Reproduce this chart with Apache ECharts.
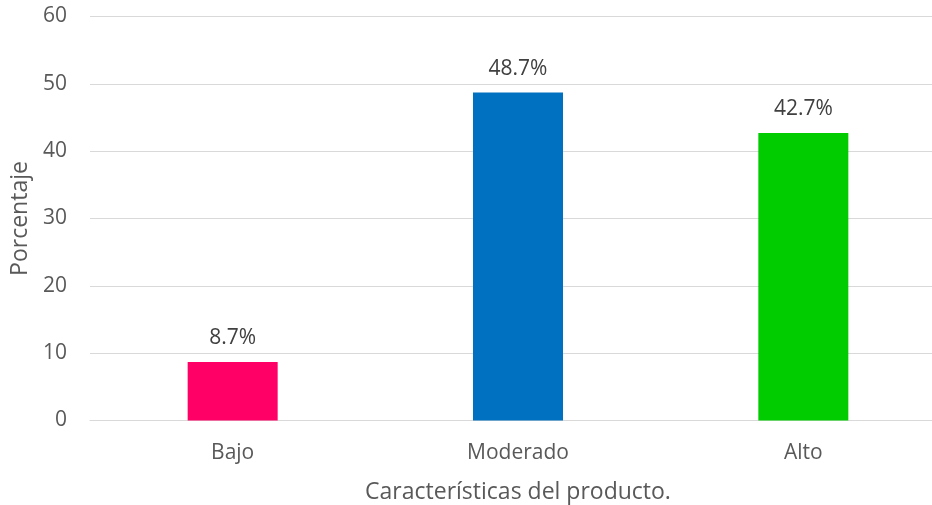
<!DOCTYPE html>
<html>
<head>
<meta charset="utf-8">
<script src="https://cdn.jsdelivr.net/npm/echarts@6/dist/echarts.min.js"></script>
<style>
  html, body { margin: 0; padding: 0; background: #fff; overflow: hidden; }
  /* plot runs off the right edge, so the canvas is a little wider than the page */
  #chart { width: 946px; height: 505px; }
</style>
</head>
<body>
<div id="chart"></div>
<script>
// Nivel de las características del producto (porcentaje)
const categories = ['Bajo', 'Moderado', 'Alto'];
const values = [8.7, 48.7, 42.7];
const barColors = ['#FF0066', '#0070C0', '#00CC00'];
const yTicks = { min: 0, max: 60, interval: 10 };

const textColor = '#595959';
const fontFamily = '"Open Sans", sans-serif';

const chart = echarts.init(document.getElementById('chart'));
chart.setOption({
  animation: false,
  textStyle: { fontFamily: fontFamily },
  grid: {
    left: 90, right: 0, top: 16.5, bottom: 84.5,
    containLabel: false,
    outerBoundsMode: 'none'
  },
  xAxis: {
    type: 'category',
    data: categories,
    name: 'Características del producto.',
    nameLocation: 'middle',
    nameGap: 60,
    nameTextStyle: { color: textColor, fontSize: 23, fontFamily: fontFamily },
    axisLine: { lineStyle: { color: '#D9D9D9', width: 1 } },
    axisTick: { show: false },
    axisLabel: { color: textColor, fontSize: 21, margin: 22, fontFamily: fontFamily }
  },
  yAxis: {
    type: 'value',
    min: yTicks.min,
    max: yTicks.max,
    interval: yTicks.interval,
    name: 'Porcentaje',
    nameLocation: 'middle',
    nameGap: 55,
    nameRotate: 90,
    nameTextStyle: { color: textColor, fontSize: 23, fontFamily: fontFamily },
    axisLine: { show: false },
    axisTick: { show: false },
    axisLabel: { color: textColor, fontSize: 21, margin: 23, fontFamily: fontFamily },
    splitLine: { lineStyle: { color: '#D9D9D9', width: 1 } }
  },
  series: [{
    type: 'bar',
    barWidth: 90,
    data: values.map((v, i) => ({ value: v, itemStyle: { color: barColors[i] } })),
    label: {
      show: true,
      position: 'top',
      distance: 13,
      color: '#404040',
      fontSize: 21,
      fontFamily: fontFamily,
      formatter: p => p.value.toFixed(1) + '%'
    }
  }]
});
</script>
</body>
</html>
